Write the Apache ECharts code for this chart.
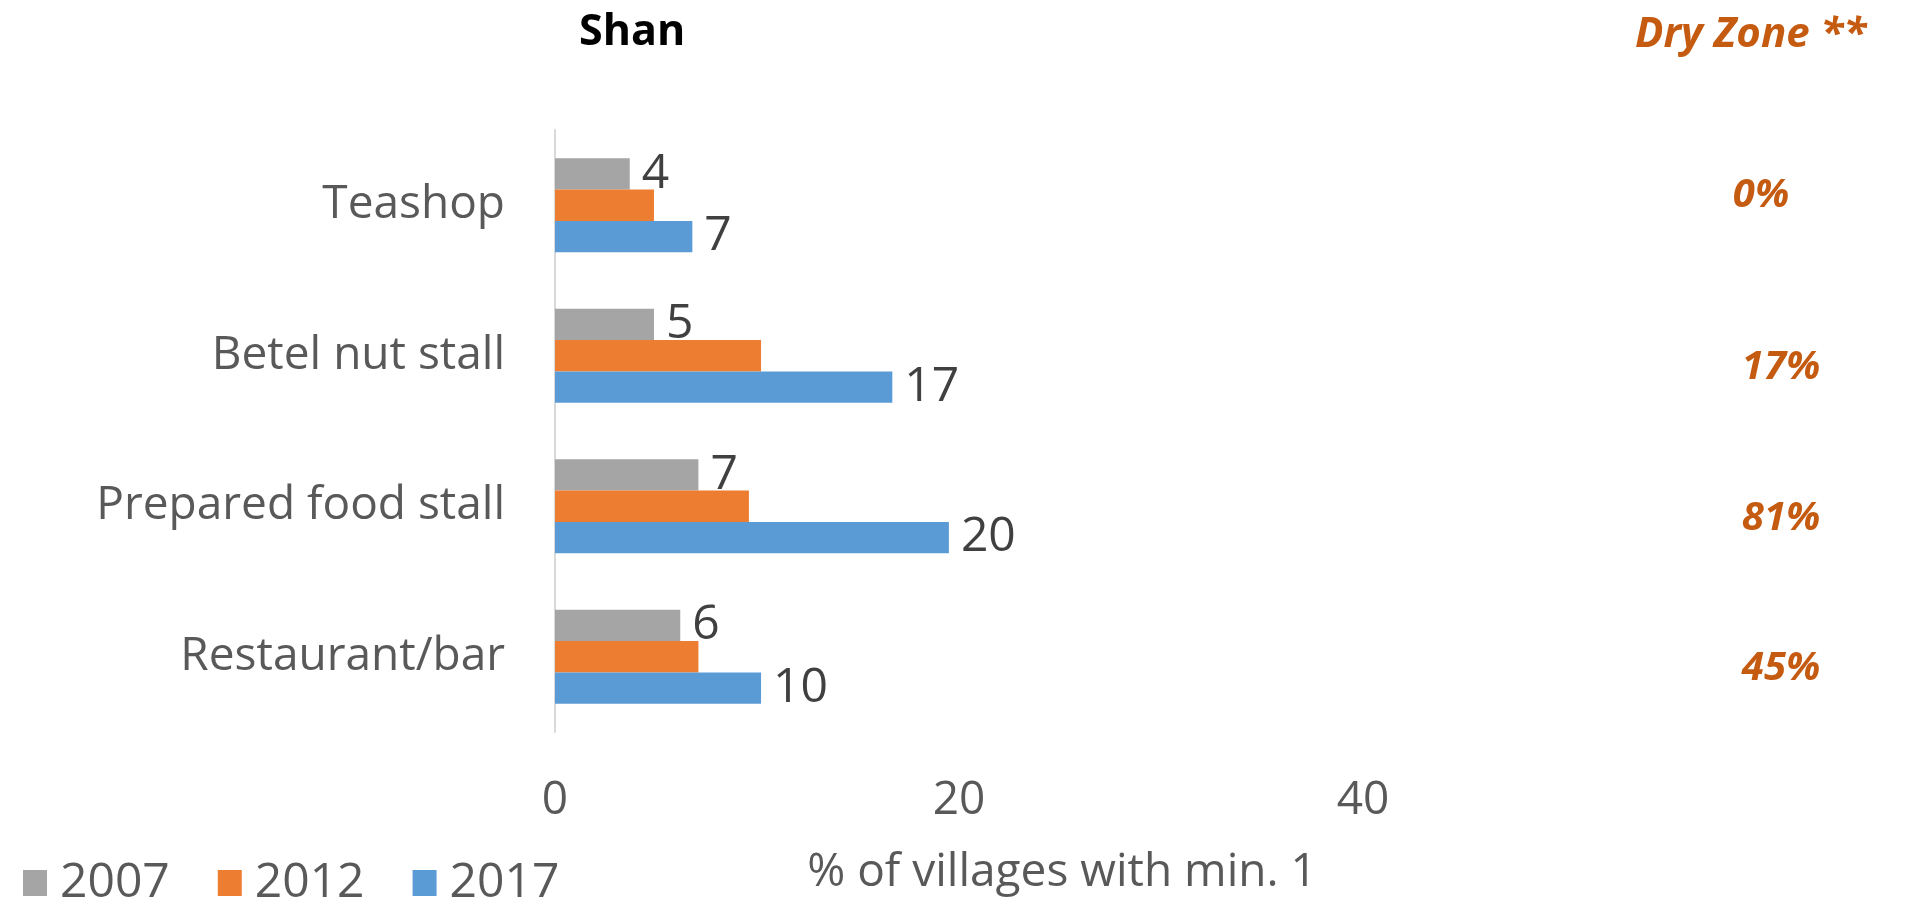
<!DOCTYPE html>
<html>
<head>
<meta charset="utf-8">
<title>Shan</title>
<script src="https://cdn.jsdelivr.net/npm/echarts@6/dist/echarts.min.js"></script>
<style>
	html, body { margin: 0; padding: 0; background: #fff; }
	#myChart { width: 1906px; height: 906px; }
</style>
</head>
<body>
<div id="myChart"></div>
<script>
	var categories = ["Teashop", "Betel nut stall", "Prepared food stall", "Restaurant/bar"];
	var years = ["2007", "2012", "2017"];
	var values2007 = [3.7, 4.9, 7.1, 6.2];
	var values2012 = [4.9, 10.2, 9.6, 7.1];
	var values2017 = [6.8, 16.7, 19.5, 10.2];
	var dryZone = [0, 17, 81, 45];
	var xTicks = [0, 20, 40, 60];

	var font = "'Open Sans', sans-serif";
	var colors = ["#A5A5A5", "#ED7D31", "#5B9BD5"];

	function barLabel(show){
		return {
			show: show,
			position: "right",
			distance: 12,
			fontFamily: font,
			fontSize: 48,
			color: "#404040",
			formatter: function(p){
				return Math.round(p.value);
			}
		};
	}

	var myChart = echarts.init(document.getElementById("myChart"));

	myChart.setOption({
		animation: false,
		color: colors,
		textStyle: { fontFamily: font },
		title: [{
			text: "Shan",
			left: 574,
			top: 6,
			textStyle: { fontFamily: font, fontSize: 43, fontWeight: "bold", color: "#000" }
		}, {
			text: "Dry Zone **",
			left: 1630,
			top: 9,
			textStyle: { fontFamily: font, fontSize: 42, fontWeight: "bold", fontStyle: "italic", color: "#C55A11" }
		}],
		graphic: [{
			type: "text",
			x: 1062,
			y: 873,
			style: {
				text: "% of villages with min. 1",
				font: "46px " + font,
				fill: "#595959",
				textAlign: "center",
				textVerticalAlign: "middle"
			}
		}],
		legend: {
			left: 18,
			top: 854,
			itemWidth: 24,
			itemHeight: 26,
			itemGap: 48,
			icon: "rect",
			textStyle: { fontFamily: font, fontSize: 48, color: "#595959", padding: [0, 0, 0, 8] },
			data: years
		},
		grid: {
			left: 555,
			right: 139,
			top: 130,
			bottom: 174
		},
		xAxis: {
			type: "value",
			min: xTicks[0],
			max: xTicks[xTicks.length - 1],
			interval: 20,
			axisLine: { show: false },
			axisTick: { show: false },
			splitLine: { show: false },
			axisLabel: {
				showMaxLabel: false,
				margin: 46,
				fontFamily: font,
				fontSize: 46,
				color: "#595959"
			}
		},
		yAxis: [{
			type: "category",
			data: categories,
			inverse: true,
			axisLine: { lineStyle: { color: "#D9D9D9", width: 2 } },
			axisTick: { show: false },
			axisLabel: {
				margin: 50,
				fontFamily: font,
				fontSize: 46,
				color: "#595959"
			}
		}, {
			type: "category",
			data: categories,
			inverse: true,
			position: "right",
			axisLine: { show: false },
			axisTick: { show: false },
			axisLabel: {
				margin: 14,
				align: "center",
				formatter: function(v, i){
					return (i === 0 ? "{up|" : "{dn|") + dryZone[i] + "%}";
				},
				rich: {
					up: { fontFamily: font, fontSize: 40, fontWeight: "bold", fontStyle: "italic", color: "#C55A11", padding: [0, 40, 20, 0] },
					dn: { fontFamily: font, fontSize: 40, fontWeight: "bold", fontStyle: "italic", color: "#C55A11", padding: [24, 0, 0, 0] }
				}
			}
		}],
		series: [{
			name: years[0],
			type: "bar",
			data: values2007,
			barGap: "0%",
			barCategoryGap: "37.5%",
			label: barLabel(true)
		}, {
			name: years[1],
			type: "bar",
			data: values2012,
			label: barLabel(false)
		}, {
			name: years[2],
			type: "bar",
			data: values2017,
			label: barLabel(true)
		}]
	});
</script>
</body>
</html>
